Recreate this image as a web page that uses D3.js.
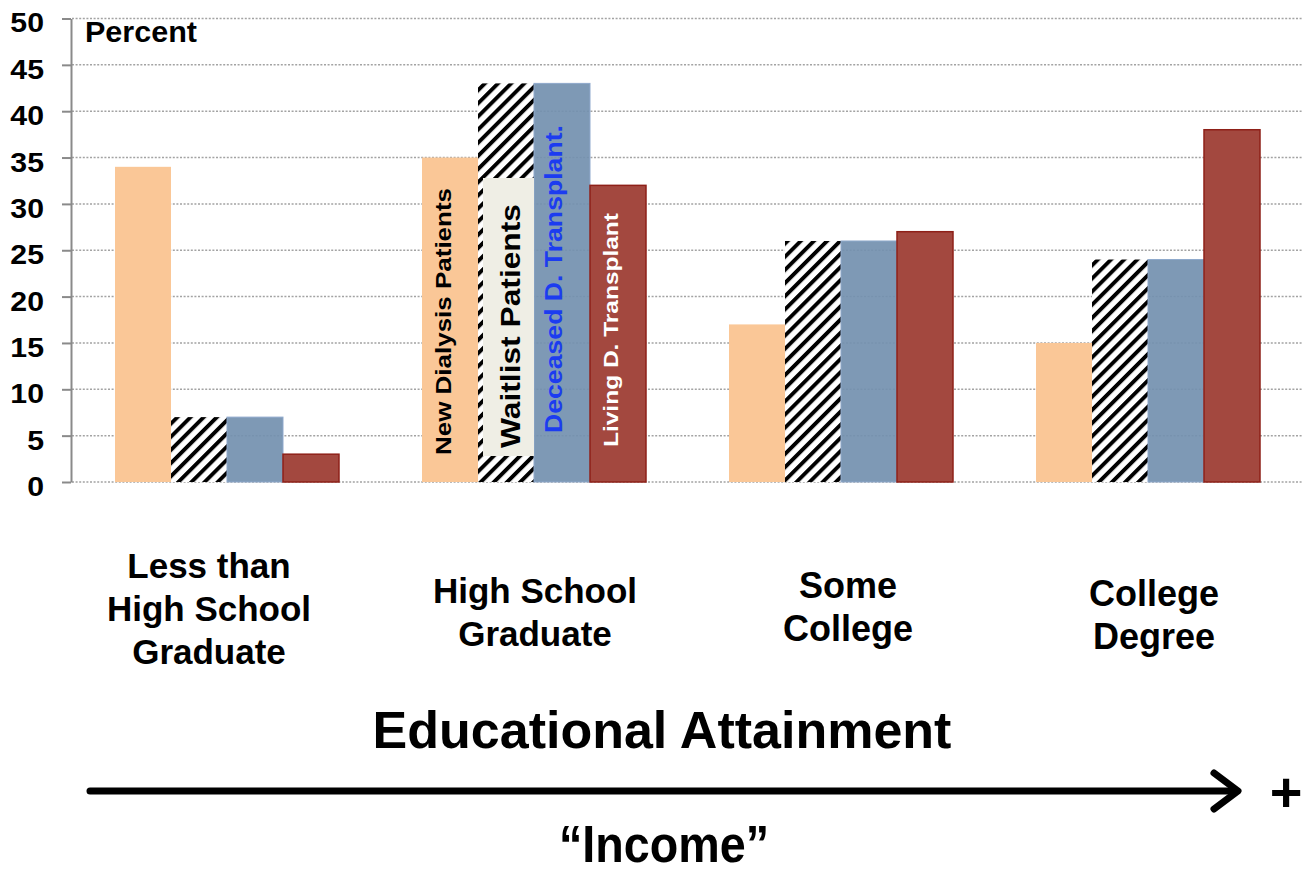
<!DOCTYPE html>
<html><head><meta charset="utf-8">
<script src="https://cdn.jsdelivr.net/npm/d3@7"></script>
<style>
body{margin:0;background:#fff}
svg{display:block}
text{font-family:"Liberation Sans",Arial,Helvetica,sans-serif;font-weight:bold}
</style>
</head><body>
<svg id="chart" width="1303" height="873"></svg>
<script>
// ---------- data ----------
const categories = ["Less than High School Graduate", "High School Graduate", "Some College", "College Degree"];
const categoryLines = [["Less than", "High School", "Graduate"], ["High School", "Graduate"], ["Some", "College"], ["College", "Degree"]];
const seriesNames = ["New Dialysis Patients", "Waitlist Patients", "Deceased D. Transplant.", "Living D. Transplant"];
const newDialysis = [34, 35, 17, 15];
const waitlist = [7, 43, 26, 24];
const deceasedTransplant = [7, 43, 26, 24];
const livingTransplant = [3, 32, 27, 38];
const yTicks = [0, 5, 10, 15, 20, 25, 30, 35, 40, 45, 50];
const yTitle = "Percent";
const xTitle = "Educational Attainment";
const arrowLabel = "\u201CIncome\u201D";
const arrowEnd = "+";

// ---------- layout ----------
const svg = d3.select("#chart");
const series = [newDialysis, waitlist, deceasedTransplant, livingTransplant];
const colors = ["#FAC797", "url(#hatch)", "#7390AF", "#A3483F"];

const x0 = d3.scaleBand().domain(categories).range([115, 1260]).paddingInner(0.2704).paddingOuter(0);
const x1 = d3.scaleBand().domain(seriesNames).range([0, x0.bandwidth()]).padding(0);
const y = d3.scaleLinear().domain([0, 50]).range([482, 18.5]);

const defs = svg.append("defs");
const pat = defs.append("pattern").attr("id", "hatch").attr("patternUnits", "userSpaceOnUse")
  .attr("width", 9.3).attr("height", 9.3).attr("patternTransform", "rotate(45)");
pat.append("rect").attr("width", 9.3).attr("height", 9.3).attr("fill", "#fff");
pat.append("rect").attr("x", 0).attr("y", 0).attr("width", 3.9).attr("height", 9.3).attr("fill", "#000");

function widen(sel, k) {
  sel.each(function () {
    const l = this.getComputedTextLength();
    d3.select(this).attr("textLength", l * k).attr("lengthAdjust", "spacingAndGlyphs");
  });
}

// gridlines
svg.append("g").selectAll("line").data(yTicks).join("line")
  .attr("x1", 72).attr("x2", 1303)
  .attr("y1", d => y(d)).attr("y2", d => y(d))
  .attr("stroke", "#a3a3a3").attr("stroke-width", 1.5).attr("stroke-dasharray", "2,1.6");

// bars
const bars = svg.append("g");
series.forEach((vals, si) => {
  bars.append("g").selectAll("rect").data(vals).join("rect")
    .attr("x", (d, i) => x0(categories[i]) + x1(seriesNames[si]))
    .attr("width", x1.bandwidth())
    .attr("y", d => y(d))
    .attr("height", d => y(0) - y(d))
    .attr("fill", colors[si])
    .attr("fill-opacity", si === 2 ? 0.92 : 1)
    .attr("stroke", si === 3 ? "#8E2018" : (si === 2 ? "#8FA9CC" : "none"))
    .attr("stroke-width", si === 3 ? 1.5 : 1);
});

// label box behind "Waitlist Patients"
const hsCat = categories[1];
svg.append("rect")
  .attr("x", x0(hsCat) + x1(seriesNames[1]) + 5)
  .attr("width", x1.bandwidth() - 5)
  .attr("y", 178).attr("height", 278)
  .attr("fill", "#EFEEE5");

// in-bar rotated labels (group 2)
const inBar = [
  {s: 0, dx: 29, bottom: 455, len: 267, size: 22, fill: "#000"},
  {s: 1, dx: 42, bottom: 448, len: 244, size: 27, fill: "#000"},
  {s: 2, dx: 28, bottom: 433, len: 308, size: 23, fill: "#1C3CF0"},
  {s: 3, dx: 28, bottom: 447, len: 234, size: 21, fill: "#fff"}
];
svg.append("g").selectAll("text").data(inBar).join("text")
  .attr("transform", d => `translate(${x0(hsCat) + x1(seriesNames[d.s]) + d.dx},${d.bottom}) rotate(-90)`)
  .attr("font-size", d => d.size)
  .attr("fill", d => d.fill)
  .attr("textLength", d => d.len).attr("lengthAdjust", "spacingAndGlyphs")
  .text(d => seriesNames[d.s]);

// y axis
const yAxis = svg.append("g").attr("transform", "translate(71,0)")
  .call(d3.axisLeft(y).tickValues(yTicks).tickSize(9).tickSizeOuter(0).tickPadding(18));
yAxis.select(".domain").attr("stroke", "#8a8a8a").attr("stroke-width", 2);
yAxis.selectAll(".tick line").attr("stroke", "#8a8a8a").attr("stroke-width", 2);
yAxis.selectAll(".tick text")
  .attr("font-family", '"Liberation Sans",Arial,sans-serif').attr("font-weight", "bold")
  .attr("font-size", 28).attr("fill", "#000").attr("dy", "0.48em").call(widen, 1.08);

svg.append("text").attr("x", 85).attr("y", 42).attr("font-size", 29).attr("fill", "#000")
  .attr("textLength", 112).attr("lengthAdjust", "spacingAndGlyphs").text(yTitle);

// category labels
const catNudge = [-18, 1, 7, 6];
const catFirstBaseline = [578, 603, 598, 606];
const catSize = [35, 35, 36, 36];
const cg = svg.append("g");
categories.forEach((c, i) => {
  cg.append("g").selectAll("text").data(categoryLines[i]).join("text")
    .attr("x", x0(c) + x0.bandwidth() / 2 + catNudge[i])
    .attr("y", (d, j) => catFirstBaseline[i] + j * 43)
    .attr("text-anchor", "middle").attr("font-size", catSize[i]).attr("fill", "#000")
    .text(d => d);
});

// x title
svg.append("text").attr("x", 662).attr("y", 748).attr("text-anchor", "middle")
  .attr("font-size", 52).attr("fill", "#000").text(xTitle);

// arrow
svg.append("line").attr("x1", 90).attr("x2", 1236).attr("y1", 791).attr("y2", 791)
  .attr("stroke", "#000").attr("stroke-width", 7).attr("stroke-linecap", "round");
svg.append("polyline").attr("points", "1214,773 1238,791 1214,809")
  .attr("fill", "none").attr("stroke", "#000").attr("stroke-width", 7)
  .attr("stroke-linecap", "round").attr("stroke-linejoin", "round");
svg.append("text").attr("x", 1286).attr("y", 811).attr("text-anchor", "middle")
  .attr("font-size", 56).attr("fill", "#000").text(arrowEnd);

svg.append("text").attr("x", 664).attr("y", 862).attr("text-anchor", "middle")
  .attr("font-size", 52).attr("fill", "#000")
  .attr("textLength", 210).attr("lengthAdjust", "spacingAndGlyphs").text(arrowLabel);
</script>
</body></html>
